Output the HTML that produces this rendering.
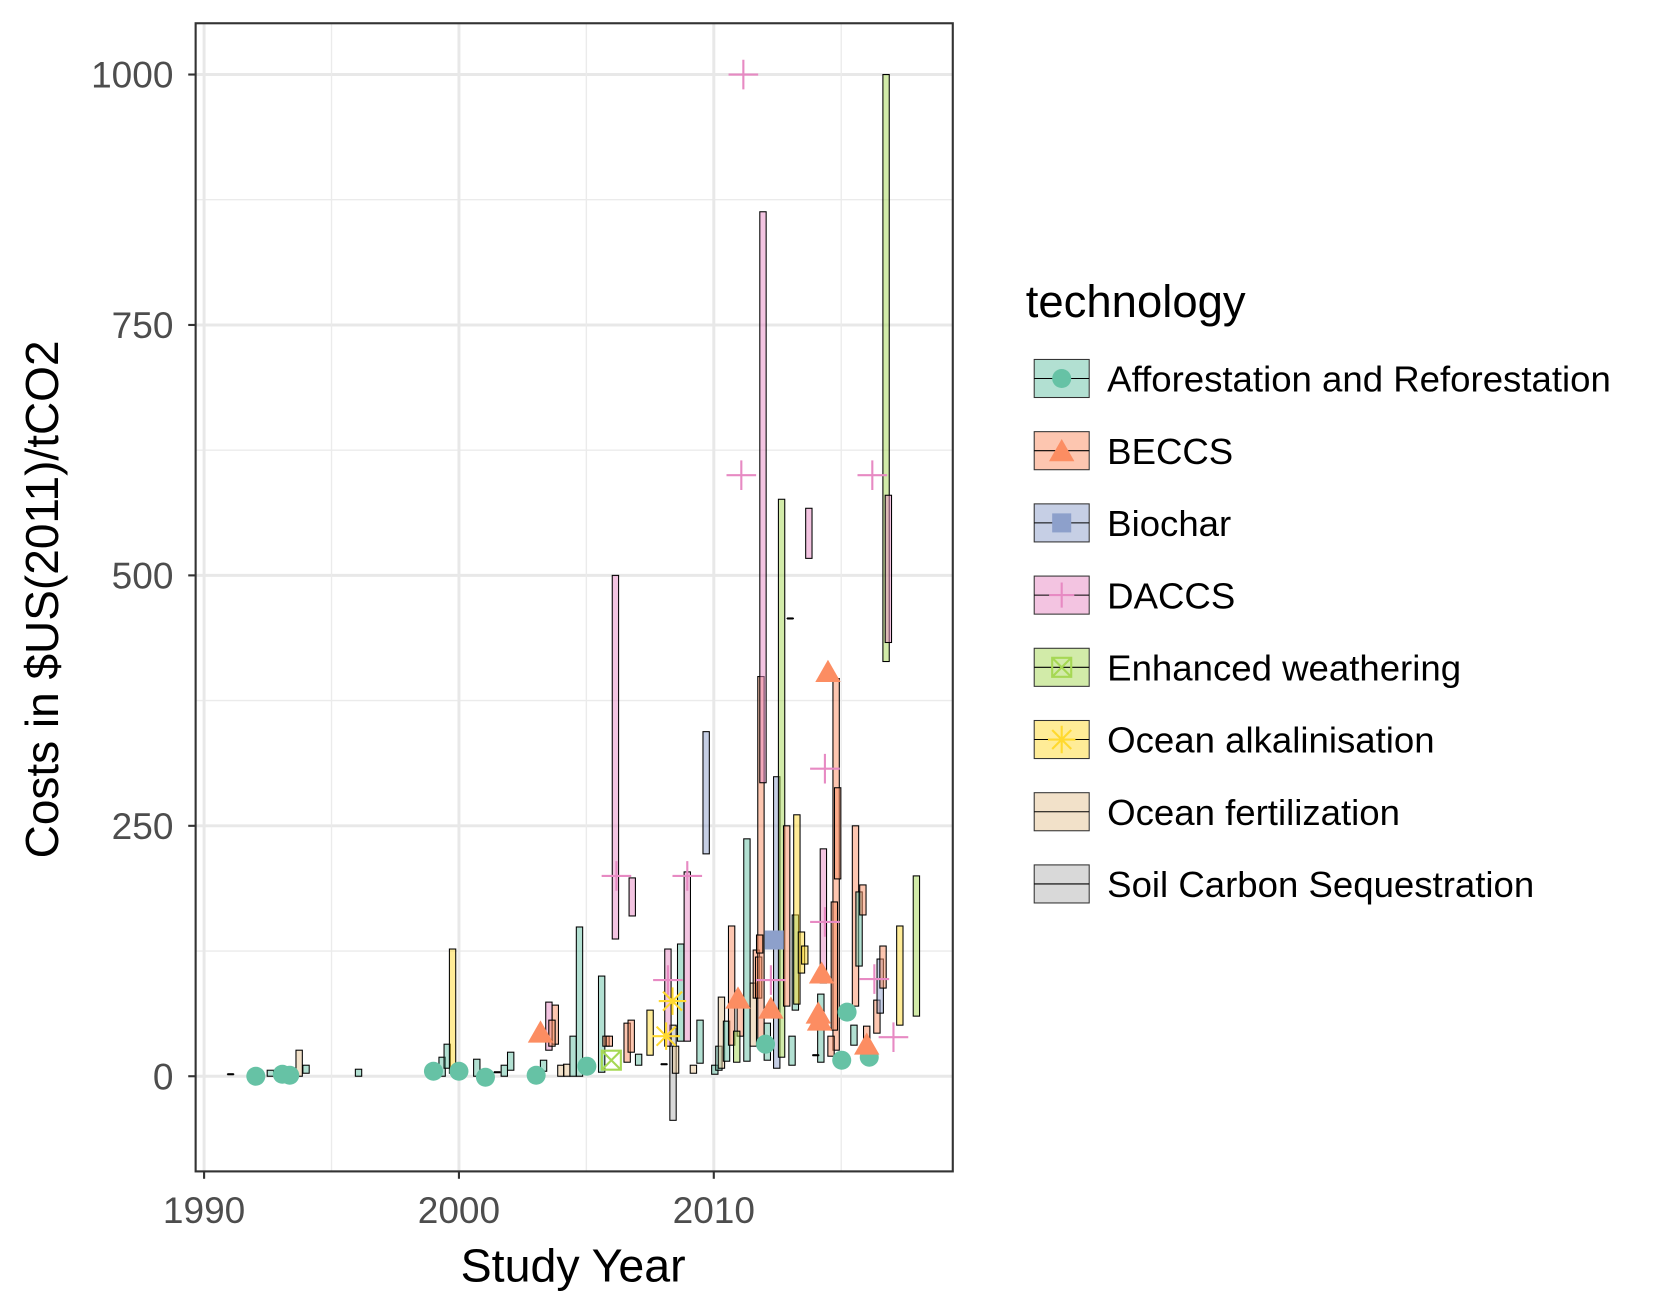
<!DOCTYPE html>
<html><head><meta charset="utf-8"><style>html,body{margin:0;padding:0;background:#fff}svg{display:block;font-family:"Liberation Sans",Arial,sans-serif}</style></head>
<body>
<svg id="chart" width="1656" height="1312" viewBox="0 0 1566 1241" preserveAspectRatio="none" xmlns="http://www.w3.org/2000/svg">
<rect x="0" y="0" width="1566" height="1241" fill="#fff"/>
<g id="grid"></g>
<g id="bars"></g>
<g id="points"></g>
<rect x="185" y="22" width="716" height="1086" fill="none" stroke="#333" stroke-width="2"/>
<g id="axes"></g>
<text x="542" y="1212" font-size="44" text-anchor="middle" fill="#000">Study Year</text>
<text x="0" y="0" transform="translate(55,567) rotate(-90)" font-size="43.5" text-anchor="middle" fill="#000">Costs in $US(2011)/tCO2</text>
<g id="legend">
<text x="970" y="300" font-size="43" fill="#000">technology</text>
</g>
</svg>
<script>
const techNames = ["Afforestation and Reforestation","BECCS","Biochar","DACCS","Enhanced weathering","Ocean alkalinisation","Ocean fertilization","Soil Carbon Sequestration"];
const techColors = ["#66c2a5","#fc8d62","#8da0cb","#e78ac3","#a6d854","#ffd92f","#e5c494","#b3b3b3"];
const techShapes = ["circle","triangle","square","plus","boxx","star","none","none"];
const xTicks = [1990,2000,2010];
const yTicks = [0,250,500,750,1000];
// bars: year, low, high, tech index
const barYear = [1993.73,1994.0,1992.6,1996.06,1999.34,1999.54,1999.75,2000.7,2001.78,2002.03,2003.32,2003.53,2003.78,2003.65,2004.0,2004.23,2004.48,2004.73,2005.6,2005.77,2005.9,2006.14,2006.8,2006.6,2006.76,2007.05,2007.5,2008.4,2008.2,2008.5,2008.7,2008.96,2009.2,2009.46,2009.7,2010.04,2010.2,2010.3,2010.5,2010.7,2011.04,2010.9,2011.3,2011.55,2011.67,2011.76,2011.85,2011.93,2011.8,2012.1,2012.47,2012.66,2012.86,2013.07,2013.2,2013.26,2013.44,2013.57,2013.73,2014.3,2014.2,2014.8,2014.86,2014.73,2014.6,2015.5,2015.56,2015.7,2015.85,2016.0,2016.4,2016.53,2016.64,2016.76,2016.85,2017.3,2017.95,1991.04,2001.5,2008.05,2013.0,2014.0];
const barLow = [0,3,0,0,0,8,3,0,0,6,5,26,32,30,0,0,0,0,4,30,30,137,160,14,24,11,21,-44,30,3,35,35,3,13,222,2,6,8,15,31,40,14,15,30,78,78,36,293,123,16,8,19,70,11,66,72,103,112,517,93,14,26,197,46,20,31,70,110,161,27,43,63,88,414,433,51,60,2,4,12,457,21];
const barHigh = [26,11,6,7,19,32,127,17,11,24,16,74,71,56,11,12,40,149,100,40,40,500,198,53,56,22,66,51,127,30,132,204,11,56,344,11,30,79,55,150,76,45,237,93,126,119,399,863,141,53,299,576,250,40,161,261,144,130,567,227,82,397,288,174,40,51,250,184,191,50,76,117,130,1000,580,150,200,2,4,12,457,21];
const barTech = [6,0,0,0,0,0,5,0,0,0,0,3,1,1,6,6,0,0,0,1,1,3,3,1,1,0,5,7,3,6,0,3,6,0,2,0,0,6,0,1,1,4,0,6,1,1,1,3,1,0,2,4,1,0,0,5,5,5,3,3,0,1,1,1,1,0,1,0,1,1,1,2,1,4,3,5,4,7,7,7,7,7];
// points: year, value, tech
const ptYear = [1992.03,1993.07,1993.36,1999.0,2000.0,2001.04,2003.03,2005.02,2012.03,2015.23,2015.02,2016.1,2003.2,2010.95,2012.24,2014.23,2014.1,2014.15,2014.48,2016.0,2012.37,2006.18,2008.96,2008.2,2011.16,2011.08,2016.22,2014.36,2012.24,2014.36,2016.3,2017.05,2005.98,2008.38,2008.13];
const ptValue = [0,2,1,5,5,-1,1,10,32,64,16,19,42,76,66,101,61,54,402,30,136,200,200,96,1000,600,600,307,96,154,97,39,16,75,40];
const ptTech = [0,0,0,0,0,0,0,0,0,0,0,0,1,1,1,1,1,1,1,1,2,3,3,3,3,3,3,3,3,3,3,3,4,5,5];

const NS="http://www.w3.org/2000/svg";
const L=185,R=901,T=22,B=1108;
function xs(y){return 193+(y-1990)*24.1;}
function ys(v){return 1018-v*0.9475;}
function mk(tag,attrs,parent){const e=document.createElementNS(NS,tag);for(const k in attrs)e.setAttribute(k,attrs[k]);parent.appendChild(e);return e;}
const grid=document.getElementById('grid'),axes=document.getElementById('axes'),bars=document.getElementById('bars'),pts=document.getElementById('points'),leg=document.getElementById('legend');
mk('rect',{x:L,y:T,width:R-L,height:B-T,fill:'#fff'},grid);
for(let i=0;i<yTicks.length;i++){
  if(i<yTicks.length-1){const m=(yTicks[i]+yTicks[i+1])/2;const g=mk('line',{x1:L,x2:R,y1:ys(m),y2:ys(m),stroke:'#ebebeb','stroke-width':1.3},grid);
  
  }
  const l=mk('line',{x1:L,x2:R,y1:ys(yTicks[i]),y2:ys(yTicks[i]),stroke:'#e8e8e8','stroke-width':2.8},grid);
  
  
  const t=mk('line',{x1:L-7,x2:L,y1:ys(yTicks[i]),y2:ys(yTicks[i]),stroke:'#333','stroke-width':2},axes);
  
  
  const tx=mk('text',{x:L-21,y:ys(yTicks[i])+12.5,'font-size':35,'text-anchor':'end',fill:'#4d4d4d'},axes);
  tx.textContent=yTicks[i];
  
  
}
for(let yy=1995;yy<=2015;yy+=10){const g=mk('line',{x1:xs(yy),x2:xs(yy),y1:T,y2:B,stroke:'#ebebeb','stroke-width':1.3},grid);
  
  }
for(const v of xTicks){
  const g=mk('line',{x1:xs(v),x2:xs(v),y1:T,y2:B,stroke:'#e8e8e8','stroke-width':2.8},grid);
  
  
  const t=mk('line',{x1:xs(v),x2:xs(v),y1:B,y2:B+7,stroke:'#333','stroke-width':2},axes);
  
  
  const tx=mk('text',{x:xs(v),y:B+49,'font-size':35,'text-anchor':'middle',fill:'#4d4d4d'},axes);
  tx.textContent=v;
  
  
}
const bw=6;
for(let i=0;i<barYear.length;i++){
  const c=techColors[barTech[i]];const x=xs(barYear[i])-bw/2;const y1=ys(barHigh[i]),y2=ys(barLow[i]);
  const r=mk('rect',{x:x,y:y1,width:bw,height:Math.max(y2-y1,0.01),fill:c,'fill-opacity':0.5,stroke:'#000','stroke-width':1},bars);
  
  
  if(barHigh[i]===barLow[i]){const d=mk('line',{x1:x,x2:x+bw,y1:y1,y2:y1,stroke:'#000','stroke-width':2},bars);
  
  }
}
function marker(shape,cx,cy,c,parent,s){
  s=s||1;let g;
  if(shape==='circle')g=mk('circle',{cx:cx,cy:cy,r:9*s,fill:c},parent);
  else if(shape==='triangle')g=mk('polygon',{points:`${cx},${cy-13*s} ${cx-12*s},${cy+8*s} ${cx+12*s},${cy+8*s}`,fill:c},parent);
  else if(shape==='square')g=mk('rect',{x:cx-9*s,y:cy-9*s,width:18*s,height:18*s,fill:c},parent);
  else if(shape==='plus')g=mk('path',{d:`M${cx-14*s},${cy}H${cx+14*s}M${cx},${cy-14*s}V${cy+14*s}`,stroke:c,'stroke-width':2,fill:'none'},parent);
  else if(shape==='boxx')g=mk('path',{d:`M${cx-9*s},${cy-9*s}h${18*s}v${18*s}h${-18*s}zM${cx-9*s},${cy-9*s}L${cx+9*s},${cy+9*s}M${cx+9*s},${cy-9*s}L${cx-9*s},${cy+9*s}`,stroke:c,'stroke-width':2,fill:'none'},parent);
  else if(shape==='star')g=mk('path',{d:`M${cx-13*s},${cy}H${cx+13*s}M${cx},${cy-13*s}V${cy+13*s}M${cx-9*s},${cy-9*s}L${cx+9*s},${cy+9*s}M${cx+9*s},${cy-9*s}L${cx-9*s},${cy+9*s}`,stroke:c,'stroke-width':2,fill:'none'},parent);
  return g;
}
for(let i=0;i<ptYear.length;i++){
  const t=ptTech[i];const g=marker(techShapes[t],xs(ptYear[i]),ys(ptValue[i]),techColors[t],pts);
  
  
}
for(let i=0;i<techNames.length;i++){
  const cy=358+i*68.3;
  const k=mk('rect',{x:978,y:cy-18,width:52,height:36,fill:techColors[i],'fill-opacity':0.5,stroke:'#333','stroke-width':1},leg);
  
  
  mk('line',{x1:978,x2:1030,y1:cy,y2:cy,stroke:'#000','stroke-width':1},leg);
  if(techShapes[i]!=='none'){const m=marker(techShapes[i],1004,cy+(techShapes[i]==='triangle'?2:0),techColors[i],leg,techShapes[i]==='plus'?0.85:1);
  
  }
  const tx=mk('text',{x:1047,y:cy+12.5,'font-size':34.6,fill:'#000'},leg);
  tx.textContent=techNames[i];
  
  
}
</script>
</body></html>
